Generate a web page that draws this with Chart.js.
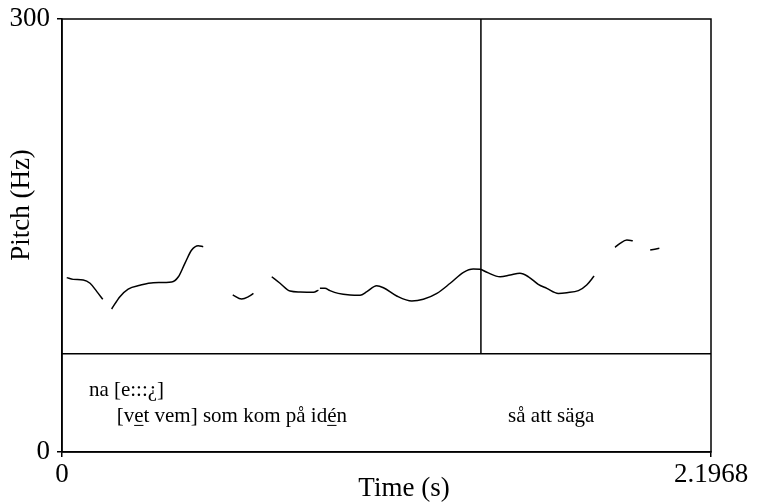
<!DOCTYPE html>
<html>
<head>
<meta charset="utf-8">
<script src="https://cdn.jsdelivr.net/npm/chart.js@4"></script>
<style>
  html, body { margin: 0; padding: 0; background: #fff; }
  #wrap { width: 766px; height: 504px; }
</style>
</head>
<body>
<div id="wrap"><canvas id="pitchChart" width="766" height="504"></canvas></div>
<script>
// Pitch track (s, Hz); null marks an unvoiced gap
const pitchTimes = [
    0.016, 0.038, 0.072, 0.095, 0.118, 0.138, 0.153,
    0.168, 0.196, 0.224, 0.264, 0.309, 0.371, 0.394, 0.416, 0.439, 0.461, 0.478, 0.530,
    0.578, 0.608, 0.631, 0.648, 0.680,
    0.710, 0.738, 0.772, 0.806, 0.851, 0.868, 0.871,
    0.873, 0.890, 0.907, 0.935, 0.975, 1.009, 1.032, 1.065, 1.088, 1.133, 1.184, 1.223,
    1.269, 1.314, 1.359, 1.392, 1.415, 1.438, 1.483, 1.517, 1.550, 1.579, 1.612, 1.641,
    1.680, 1.709, 1.748, 1.776, 1.801, 1.840,
    1.872, 1.889, 1.912, 1.932, 1.960,
    1.991, 2.022
];
const pitchHz = [
    120.8, 119.6, 119.2, 116.9, 111.1, 105.8, null,
    99.1, 107.6, 112.9, 115.5, 117.3, 117.8, 121.4, 130.7, 139.9, 142.9, 142.2, null,
    108.8, 106.0, 107.6, 109.9, null,
    121.4, 116.9, 111.5, 110.8, 110.6, 112.2, null,
    113.4, 113.4, 111.8, 109.9, 108.8, 108.6, 111.1, 115.2, 113.8, 108.1, 104.6, 105.8,
    109.9, 116.9, 124.5, 126.8, 126.6, 124.5, 121.4, 122.6, 123.8, 121.4, 116.2, 113.4,
    109.9, 110.4, 111.8, 115.7, 121.9, null,
    141.8, 144.6, 146.9, 146.4, null,
    139.9, 141.1
];

// Axis ticks
const xTicks = [0, 2.1968];
const xTickLabels = ['0', '2.1968'];
const yTicks = [0, 300];
const yTickLabels = ['0', '300'];

// Text tier
const tierTexts = ['na [e:::¿]', '[vet vem] som kom på idén', 'så att säga'];
const tierTimes = [0.091, 0.185, 1.510];
const tierHz = [38.5, 20.5, 20.5];
const tierUnderlines = [[], [2, 23], []];
const tierBoundaryHz = 68;
const cursorTime = 1.418;

const FONT = '"Liberation Serif", "Times New Roman", serif';

function drawUnderlinedText(ctx, text, x, y, underline) {
    ctx.fillText(text, x, y);
    underline.forEach(i => {
        const x0 = x + ctx.measureText(text.slice(0, i)).width;
        const w = ctx.measureText(text[i]).width;
        ctx.beginPath();
        ctx.moveTo(x0, y + 3);
        ctx.lineTo(x0 + w, y + 3);
        ctx.stroke();
    });
}

const praatFrame = {
    id: 'praatFrame',
    afterDatasetsDraw(chart) {
        const { ctx, chartArea: a, scales } = chart;
        const xs = scales.x, ys = scales.y;
        ctx.save();
        ctx.strokeStyle = '#000';
        ctx.lineWidth = 1.5;
        ctx.strokeRect(a.left, a.top, a.right - a.left, a.bottom - a.top);

        // tier boundary and cursor
        const yb = ys.getPixelForValue(tierBoundaryHz);
        ctx.beginPath();
        ctx.moveTo(a.left, yb);
        ctx.lineTo(a.right, yb);
        const xc = xs.getPixelForValue(cursorTime);
        ctx.moveTo(xc, a.top);
        ctx.lineTo(xc, yb);
        ctx.stroke();

        // tier labels
        ctx.fillStyle = '#000';
        ctx.lineWidth = 1;
        ctx.font = '21px ' + FONT;
        ctx.textBaseline = 'alphabetic';
        ctx.textAlign = 'left';
        tierTexts.forEach((t, i) => {
            drawUnderlinedText(ctx, t, xs.getPixelForValue(tierTimes[i]),
                ys.getPixelForValue(tierHz[i]), tierUnderlines[i]);
        });

        // axis titles
        ctx.font = '27px ' + FONT;
        ctx.textAlign = 'center';
        ctx.textBaseline = 'middle';
        ctx.fillText('Time (s)', 404, 489);
        ctx.translate(22, 205);
        ctx.rotate(-Math.PI / 2);
        ctx.fillText('Pitch (Hz)', 0, 0);
        ctx.restore();
    }
};

function initializePitchChart() {
    const canvas = document.getElementById('pitchChart');
    if (!canvas) {
        console.error('Pitch chart canvas not found');
        return;
    }
    const points = pitchTimes.map((t, i) => ({ x: t, y: pitchHz[i] }));

    return new Chart(canvas.getContext('2d'), {
        type: 'line',
        data: {
            datasets: [{
                data: points,
                borderColor: '#000',
                borderWidth: 1.5,
                pointRadius: 0,
                spanGaps: false,
                cubicInterpolationMode: 'monotone',
                fill: false
            }]
        },
        options: {
            responsive: false,
            animation: false,
            devicePixelRatio: 1,
            layout: { padding: { top: 19, right: 55, left: 0, bottom: 0 } },
            plugins: { legend: { display: false }, tooltip: { enabled: false } },
            scales: {
                x: {
                    type: 'linear',
                    min: 0,
                    max: 2.1968,
                    afterBuildTicks: s => { s.ticks = xTicks.map(v => ({ value: v })); },
                    afterFit: s => { s.height = 52; s.paddingLeft = 0; s.paddingRight = 0; },
                    ticks: {
                        callback: (v, i) => xTickLabels[i],
                        color: '#000',
                        font: { family: FONT, size: 27 },
                        padding: 2,
                        maxRotation: 0,
                        autoSkip: false
                    },
                    grid: { drawOnChartArea: false, drawTicks: true, tickLength: 5, color: '#000', lineWidth: 1.5 },
                    border: { display: true, color: '#000', width: 1.5 }
                },
                y: {
                    min: 0,
                    max: 300,
                    afterBuildTicks: s => { s.ticks = yTicks.map(v => ({ value: v })); },
                    afterFit: s => { s.width = 62; s.paddingTop = 0; s.paddingBottom = 0; },
                    ticks: {
                        callback: (v, i) => yTickLabels[i],
                        color: '#000',
                        font: { family: FONT, size: 27 },
                        padding: 7,
                        autoSkip: false
                    },
                    grid: { drawOnChartArea: false, drawTicks: true, tickLength: 5, color: '#000', lineWidth: 1.5 },
                    border: { display: true, color: '#000', width: 1.5 }
                }
            }
        },
        plugins: [praatFrame]
    });
}

initializePitchChart();
</script>
</body>
</html>
